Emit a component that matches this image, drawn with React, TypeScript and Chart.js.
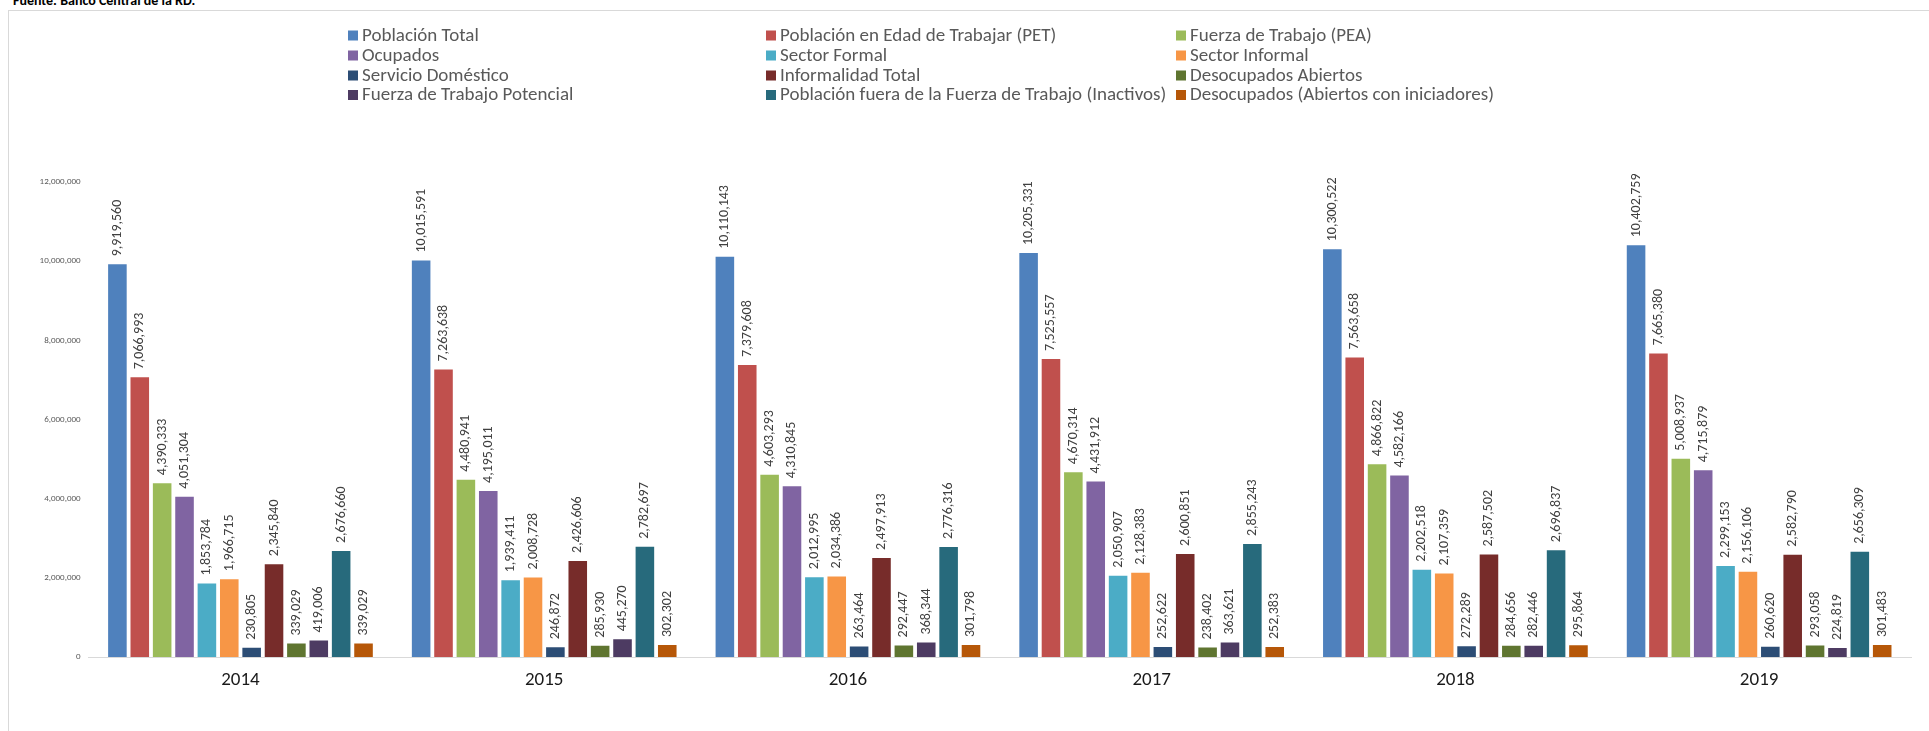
import React, { useEffect, useRef } from "react";
import { Chart, registerables } from "chart.js";

Chart.register(...registerables);

const years = ["2014", "2015", "2016", "2017", "2018", "2019"];

const poblacionTotal = [9919560, 10015591, 10110143, 10205331, 10300522, 10402759];
const poblacionEdadTrabajar = [7066993, 7263638, 7379608, 7525557, 7563658, 7665380];
const fuerzaTrabajo = [4390333, 4480941, 4603293, 4670314, 4866822, 5008937];
const ocupados = [4051304, 4195011, 4310845, 4431912, 4582166, 4715879];
const sectorFormal = [1853784, 1939411, 2012995, 2050907, 2202518, 2299153];
const sectorInformal = [1966715, 2008728, 2034386, 2128383, 2107359, 2156106];
const servicioDomestico = [230805, 246872, 263464, 252622, 272289, 260620];
const informalidadTotal = [2345840, 2426606, 2497913, 2600851, 2587502, 2582790];
const desocupadosAbiertos = [339029, 285930, 292447, 238402, 284656, 293058];
const fuerzaTrabajoPotencial = [419006, 445270, 368344, 363621, 282446, 224819];
const inactivos = [2676660, 2782697, 2776316, 2855243, 2696837, 2656309];
const desocupadosIniciadores = [339029, 302302, 301798, 252383, 295864, 301483];

const seriesLabels = [
  "Población Total",
  "Población en Edad de Trabajar (PET)",
  "Fuerza de Trabajo (PEA)",
  "Ocupados",
  "Sector Formal",
  "Sector Informal",
  "Servicio Doméstico",
  "Informalidad Total",
  "Desocupados Abiertos",
  "Fuerza de Trabajo Potencial",
  "Población fuera de la Fuerza de Trabajo (Inactivos)",
  "Desocupados (Abiertos con iniciadores)",
];

const seriesValues = [
  poblacionTotal,
  poblacionEdadTrabajar,
  fuerzaTrabajo,
  ocupados,
  sectorFormal,
  sectorInformal,
  servicioDomestico,
  informalidadTotal,
  desocupadosAbiertos,
  fuerzaTrabajoPotencial,
  inactivos,
  desocupadosIniciadores,
];

const seriesColors = [
  "#4F81BD",
  "#C0504D",
  "#9BBB59",
  "#8064A2",
  "#4BACC6",
  "#F79646",
  "#2C4D75",
  "#772C2A",
  "#5F7530",
  "#4D3B62",
  "#276A7C",
  "#B65708",
];

const yTickValues = [0, 2000000, 4000000, 6000000, 8000000, 10000000, 12000000];

const sourceText = "Fuente: Banco Central de la RD.";

const FONT = "Carlito, Lato, 'Open Sans', sans-serif";

const fmt = (v: number) => v.toLocaleString("en-US");

const legendPlugin = {
  id: "gridLegend",
  afterDraw(chart: any) {
    const ctx = chart.ctx;
    const colX = [348, 766, 1176];
    const rowY = [35.5, 55.5, 75.5, 95];
    ctx.save();
    ctx.font = `19px ${FONT}`;
    ctx.textBaseline = "middle";
    ctx.textAlign = "left";
    chart.data.datasets.forEach((ds: any, i: number) => {
      const col = i % 3;
      const row = Math.floor(i / 3);
      const x = colX[col];
      const y = rowY[row];
      ctx.fillStyle = ds.backgroundColor;
      ctx.fillRect(x, y - 5, 10, 10);
      ctx.fillStyle = "#595959";
      ctx.fillText(ds.label, x + 14, y + 0.5);
    });
    ctx.restore();
  },
};

const valueLabelPlugin = {
  id: "valueLabels",
  afterDatasetsDraw(chart: any) {
    const ctx = chart.ctx;
    ctx.save();
    ctx.font = `14px ${FONT}`;
    ctx.fillStyle = "#404040";
    ctx.textAlign = "left";
    ctx.textBaseline = "middle";
    chart.data.datasets.forEach((ds: any, di: number) => {
      const meta = chart.getDatasetMeta(di);
      meta.data.forEach((el: any, i: number) => {
        const v = ds.data[i];
        ctx.save();
        ctx.translate(el.x, el.y - 8);
        ctx.rotate(-Math.PI / 2);
        ctx.fillText(fmt(v), 0, 0);
        ctx.restore();
      });
    });
    ctx.restore();
  },
};

export default function App() {
  const canvasRef = useRef<HTMLCanvasElement | null>(null);

  useEffect(() => {
    if (!canvasRef.current) return;
    const chart = new Chart(canvasRef.current, {
      type: "bar",
      data: {
        labels: years,
        datasets: seriesLabels.map((label, i) => ({
          label,
          data: seriesValues[i],
          backgroundColor: seriesColors[i],
          borderWidth: 0,
          categoryPercentage: 0.884,
          barPercentage: 0.83,
        })),
      },
      options: {
        animation: false,
        responsive: false,
        maintainAspectRatio: false,
        layout: { padding: { top: 182, right: 18, left: 0, bottom: 0 } },
        plugins: {
          legend: { display: false },
          tooltip: { enabled: false },
          title: { display: false },
        },
        scales: {
          x: {
            grid: { display: false, drawTicks: false },
            border: { display: true, color: "#d9d9d9", width: 1 },
            ticks: {
              font: { family: FONT, size: 19 },
              color: "#1a1a1a",
              padding: 12,
            },
            afterFit(scale: any) {
              scale.height = 74;
            },
          },
          y: {
            min: 0,
            max: 12000000,
            grid: { display: false, drawTicks: false },
            border: { display: false },
            afterBuildTicks(scale: any) {
              scale.ticks = yTickValues.map((v) => ({ value: v }));
            },
            ticks: {
              font: { family: FONT, size: 9 },
              color: "#595959",
              padding: 8,
              callback: (v: any) => fmt(Number(v)),
            },
            afterFit(scale: any) {
              scale.width = 88.6;
            },
          },
        },
      },
      plugins: [legendPlugin, valueLabelPlugin],
    });
    return () => chart.destroy();
  }, []);

  return (
    <div
      style={{
        position: "fixed",
        left: 0,
        top: 0,
        width: 1929,
        height: 731,
        overflow: "hidden",
        background: "#ffffff",
      }}
    >
      <div
        style={{
          position: "absolute",
          left: 8,
          top: 10,
          width: 1960,
          height: 760,
          border: "1px solid #d9d9d9",
          boxSizing: "border-box",
        }}
      />
      <div
        style={{
          position: "absolute",
          left: 13,
          top: -6,
          fontFamily: FONT,
          fontWeight: "bold",
          fontSize: 14,
          lineHeight: "14px",
          color: "#000",
          whiteSpace: "nowrap",
        }}
      >
        {sourceText}
      </div>
      <canvas
        ref={canvasRef}
        width={1929}
        height={731}
        style={{ position: "absolute", left: 0, top: 0, width: 1929, height: 731 }}
      />
    </div>
  );
}
